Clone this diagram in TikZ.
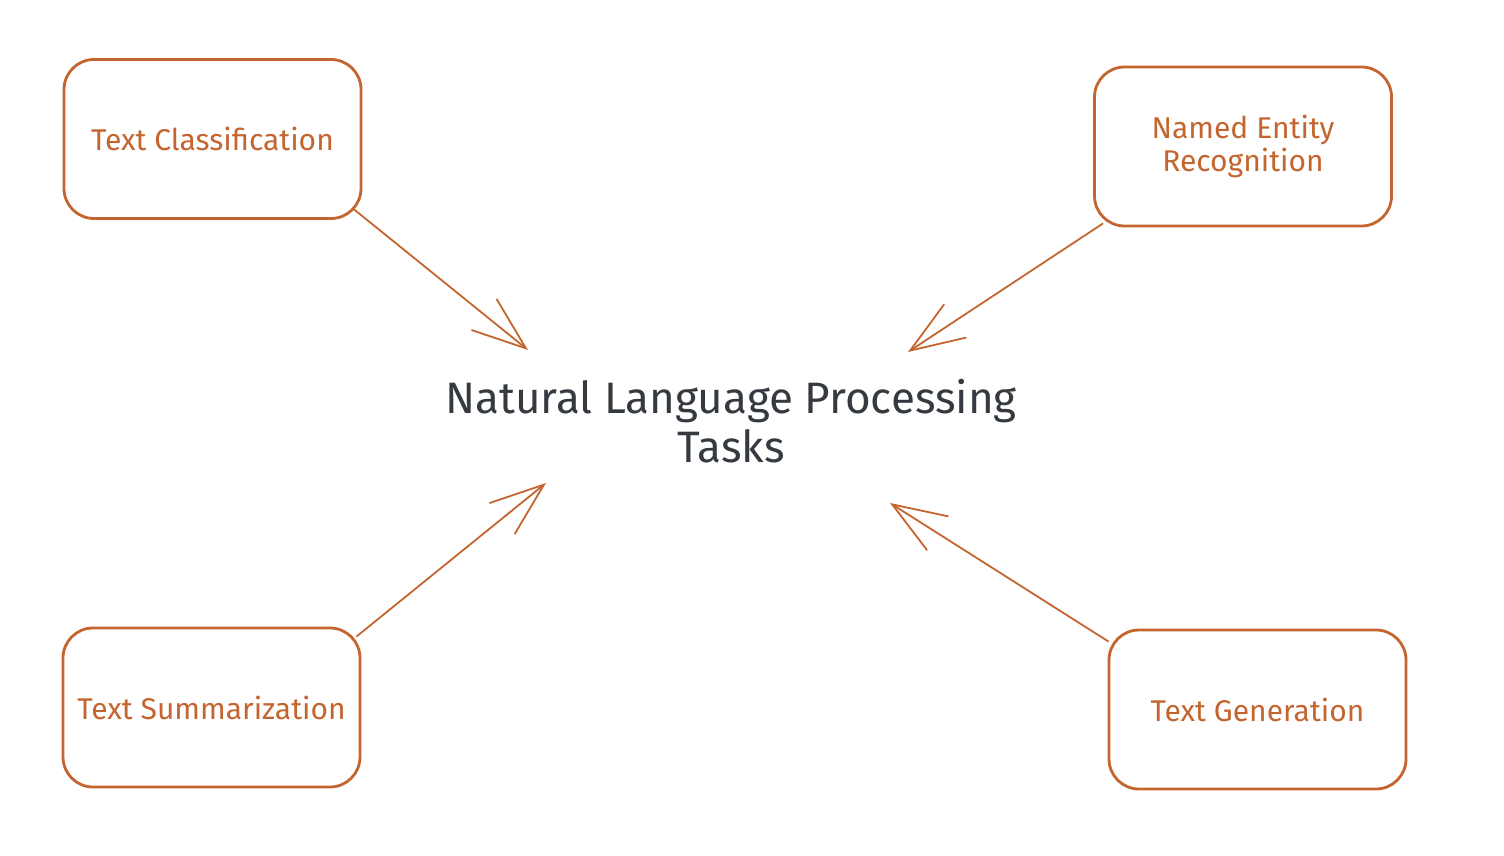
\documentclass[tikz,border=0pt]{standalone}
\usepackage{fontspec}
\setmainfont{Fira Sans}
\usetikzlibrary{arrows.meta,positioning}
\definecolor{sketchorange}{HTML}{C4652F}
\definecolor{sketchink}{HTML}{343A40}
\tikzset{
  task/.style       = {draw=sketchorange, line width=1.4pt, rounded corners=15pt,
                       minimum width=148.5pt, minimum height=79.5pt, align=center,
                       text=sketchorange, font=\fontsize{15}{16.5}\selectfont},
  title/.style      = {text=sketchink, align=center, font=\fontsize{22}{24.5}\selectfont},
  sig/.style        = {-{Straight Barb[length=27pt, width=20pt, line width=0.9pt]},
                       draw=sketchorange, line width=0.9pt},
}

\begin{document}
\begin{tikzpicture}[x=0.5pt,y=-0.5pt]
  \useasboundingbox (0,0) rectangle (1504,856);
  % task boxes
  \node[task] (tc)  at (212.5,139)   {Text Classification};
  \node[task] (ner) at (1243,146.5)  {Named Entity\\Recognition};
  \node[task] (ts)  at (211.5,707.5) {Text Summarization};
  \node[task] (tg)  at (1257.5,709.5) {Text Generation};
  % centre
  \node[title] (nlp) at (731,421) {Natural Language Processing\\Tasks};
  \coordinate (tc-in)  at (528,350);
  \coordinate (ner-in) at (908,352);
  \coordinate (ts-in)  at (546,483);
  \coordinate (tg-in)  at (890,503);
  % arrows
  \draw[sig] ([shift={(-9,-11)}]tc.south east) -- (tc-in);
  \draw[sig] ([shift={(10,-4)}]ner.south west) -- (ner-in);
  \draw[sig] ([shift={(-5,10)}]ts.north east) -- (ts-in);
  \draw[sig] ([shift={(1,13)}]tg.north west) -- (tg-in);
\end{tikzpicture}
\end{document}
